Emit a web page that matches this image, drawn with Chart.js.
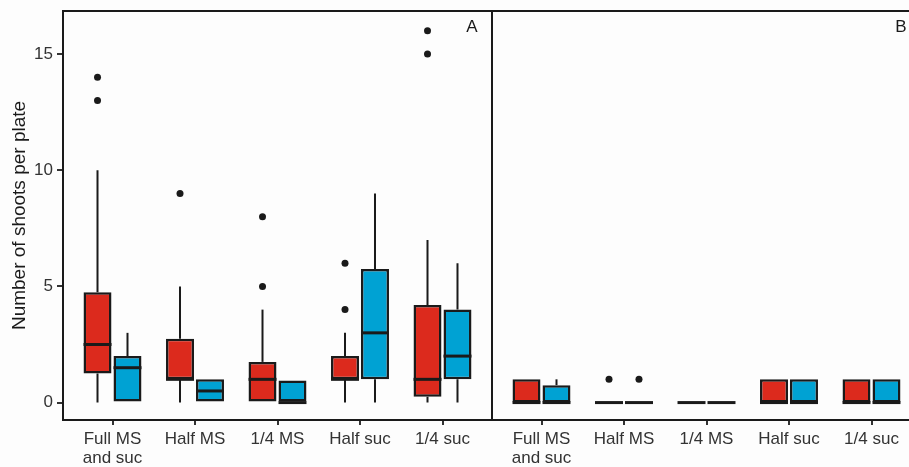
<!DOCTYPE html>
<html>
<head>
<meta charset="utf-8">
<script src="https://cdn.jsdelivr.net/npm/chart.js@4.4.1/dist/chart.umd.min.js"></script>
<style>
  html, body { margin: 0; padding: 0; background: #fdfdfd; overflow: hidden; }
  #wrap { position: relative; width: 909px; height: 467px; overflow: hidden; }
  canvas { position: absolute; top: 0; }
  #chartA { left: 0; }
  #chartB { left: 491px; }
</style>
</head>
<body>
<div id="wrap">
  <canvas id="chartA" width="493" height="467"></canvas>
  <canvas id="chartB" width="440" height="467"></canvas>
</div>
<script>
// categories on the x axis (same in both panels)
const categories = [['Full MS', 'and suc'], 'Half MS', '1/4 MS', 'Half suc', '1/4 suc'];
const yTicks = [0, 5, 10, 15];

// every box is [lower whisker, Q1, median, Q3, upper whisker]
const redA = [[0, 1.25, 2.5, 4.75, 10], [0, 1, 1, 2.75, 5], [0, 0, 1, 1.75, 4], [0, 1, 1, 2, 3], [0, 0.25, 1, 4.2, 7]];
const blueA = [[0, 0, 1.5, 2, 3], [0, 0, 0.5, 1, 1], [0, 0, 0, 0.95, 0.95], [0, 1, 3, 5.75, 9], [0, 1, 2, 4, 6]];
const redB = [[0, 0, 0, 1, 1], [0, 0, 0, 0, 0], [0, 0, 0, 0, 0], [0, 0, 0, 1, 1], [0, 0, 0, 1, 1]];
const blueB = [[0, 0, 0, 0.75, 1], [0, 0, 0, 0, 0], [0, 0, 0, 0, 0], [0, 0, 0, 1, 1], [0, 0, 0, 1, 1]];

// outlier points per category
const redOutA = [[13, 14], [9], [5, 8], [4, 6], [15, 16]];
const blueOutA = [[], [], [], [], []];
const redOutB = [[], [1], [], [], []];
const blueOutB = [[], [1], [], [], []];

const RED = '#dc2a1d';
const BLUE = '#00a2d3';
const INK = '#1a1a1a';
const FONT = "'Liberation Sans', Arial, sans-serif";

function boxDataset(boxes, outliers, color) {
    return {
        data: boxes.map((b, i) => ({ x: i + 1, y: [b[1], b[3]] })),
        boxes: boxes,
        outliers: outliers,
        backgroundColor: color,
        borderColor: INK,
        borderWidth: 2.5,
        borderSkipped: false,
        categoryPercentage: 0.727,
        barPercentage: 0.933
    };
}

// whiskers, medians, outliers, frame and panel letter
const boxPlugin = {
    id: 'boxplot',
    beforeDatasetsDraw(chart) {
        const ctx = chart.ctx, y = chart.scales.y;
        ctx.save();
        ctx.strokeStyle = INK;
        ctx.lineWidth = 2;
        chart.data.datasets.forEach((ds, d) => {
            chart.getDatasetMeta(d).data.forEach((bar, i) => {
                const [lo, q1, , q3, hi] = ds.boxes[i];
                ctx.beginPath();
                if (hi > q3) {
                    ctx.moveTo(bar.x, y.getPixelForValue(q3));
                    ctx.lineTo(bar.x, y.getPixelForValue(hi));
                }
                if (lo < q1) {
                    ctx.moveTo(bar.x, y.getPixelForValue(q1));
                    ctx.lineTo(bar.x, y.getPixelForValue(lo));
                }
                ctx.stroke();
            });
        });
        ctx.restore();
    },
    afterDatasetsDraw(chart, args, opts) {
        const ctx = chart.ctx, y = chart.scales.y, area = chart.chartArea;
        ctx.save();
        chart.data.datasets.forEach((ds, d) => {
            chart.getDatasetMeta(d).data.forEach((bar, i) => {
                // median
                const my = y.getPixelForValue(ds.boxes[i][2]);
                ctx.strokeStyle = INK;
                ctx.lineWidth = 3;
                ctx.beginPath();
                ctx.moveTo(bar.x - bar.width / 2, my);
                ctx.lineTo(bar.x + bar.width / 2, my);
                ctx.stroke();
                // outliers
                ctx.fillStyle = INK;
                ds.outliers[i].forEach(v => {
                    ctx.beginPath();
                    ctx.arc(bar.x, y.getPixelForValue(v), 3.5, 0, Math.PI * 2);
                    ctx.fill();
                });
            });
        });
        // panel frame
        ctx.strokeStyle = INK;
        ctx.lineWidth = 2;
        ctx.strokeRect(area.left, area.top, area.right - area.left, area.bottom - area.top);
        // panel letter
        ctx.fillStyle = INK;
        ctx.font = '17px ' + FONT;
        ctx.textAlign = 'center';
        ctx.textBaseline = 'middle';
        ctx.fillText(opts.letter, area.right - 20, area.top + 16);
        ctx.restore();
    }
};

function makeChart(id, boxesRed, boxesBlue, outRed, outBlue, letter, showY) {
    const ctx = document.getElementById(id).getContext('2d');
    return new Chart(ctx, {
        type: 'bar',
        data: {
            datasets: [
                boxDataset(boxesRed, outRed, RED),
                boxDataset(boxesBlue, outBlue, BLUE)
            ]
        },
        options: {
            responsive: false,
            animation: false,
            devicePixelRatio: 1,
            layout: { padding: showY ? { top: 11, right: 1, left: 0, bottom: 0 } : { top: 11, right: 10, left: 1, bottom: 0 } },
            plugins: {
                legend: { display: false },
                tooltip: { enabled: false },
                boxplot: { letter: letter }
            },
            scales: {
                x: {
                    type: 'linear',
                    min: 0.4,
                    max: 5.6,
                    offset: false,
                    afterBuildTicks: scale => { scale.ticks = categories.map((c, i) => ({ value: i + 1 })); },
                    afterFit: scale => {
                        scale.height = 47;
                        scale.paddingLeft = 0;
                        scale.paddingRight = 0;
                    },
                    grid: { drawOnChartArea: false, offset: false, tickLength: 5, color: '#333', lineWidth: 2 },
                    border: { display: false },
                    ticks: {
                        callback: v => categories[v - 1],
                        autoSkip: false,
                        maxRotation: 0,
                        padding: 5,
                        color: '#333',
                        font: { family: FONT, size: 17, lineHeight: 1.12 }
                    }
                },
                y: {
                    display: showY,
                    min: -0.75,
                    max: 16.85,
                    afterBuildTicks: scale => { scale.ticks = yTicks.map(v => ({ value: v })); },
                    afterFit: scale => {
                        scale.width = showY ? 63 : 0;
                        scale.paddingTop = 0;
                        scale.paddingBottom = 0;
                    },
                    grid: { drawOnChartArea: false, tickLength: 6, color: '#333', lineWidth: 2 },
                    border: { display: false },
                    ticks: {
                        padding: 4,
                        color: '#333',
                        font: { family: FONT, size: 17 }
                    },
                    title: {
                        display: true,
                        text: 'Number of shoots per plate',
                        color: INK,
                        padding: { top: 8, bottom: 0 },
                        font: { family: FONT, size: 19 }
                    }
                }
            }
        },
        plugins: [boxPlugin]
    });
}

makeChart('chartA', redA, blueA, redOutA, blueOutA, 'A', true);
makeChart('chartB', redB, blueB, redOutB, blueOutB, 'B', false);
</script>
</body>
</html>
